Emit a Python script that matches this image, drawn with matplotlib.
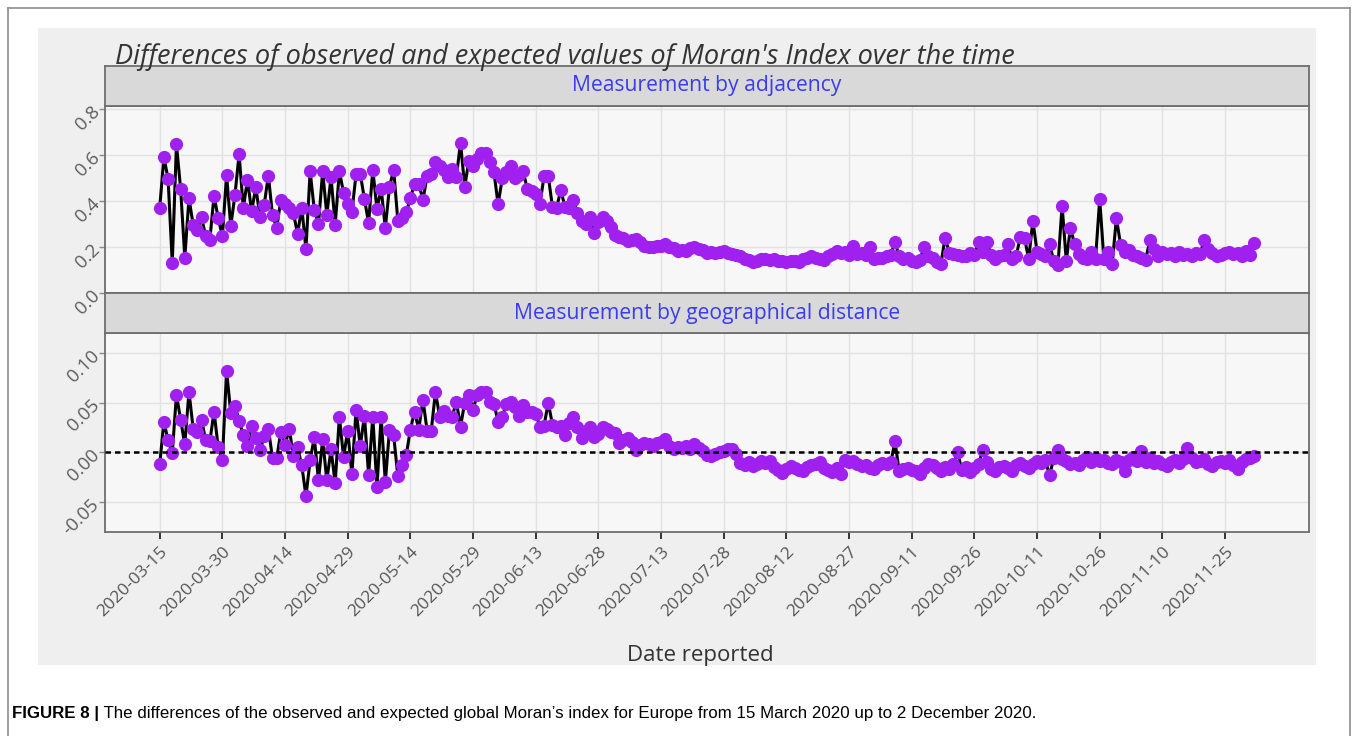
import matplotlib
matplotlib.use('Agg')
import matplotlib.pyplot as plt
import matplotlib.dates as mdates
import numpy as np
import pandas as pd

# daily values, 2020-03-15 .. 2020-12-02
dates = pd.date_range('2020-03-15', '2020-12-02', freq='D')

adjacency = [
    0.371, 0.589, 0.496, 0.130, 0.646, 0.453, 0.154, 0.411, 0.297, 0.275,
    0.328, 0.247, 0.232, 0.422, 0.325, 0.247, 0.513, 0.290, 0.425, 0.603,
    0.368, 0.492, 0.354, 0.461, 0.328, 0.382, 0.510, 0.337, 0.282, 0.406,
    0.385, 0.368, 0.347, 0.257, 0.371, 0.190, 0.528, 0.361, 0.299, 0.528,
    0.339, 0.503, 0.297, 0.528, 0.436, 0.385, 0.351, 0.518, 0.518, 0.408,
    0.304, 0.536, 0.365, 0.453, 0.282, 0.461, 0.536, 0.311, 0.325, 0.350,
    0.411, 0.475, 0.475, 0.403, 0.508, 0.518, 0.568, 0.553, 0.532, 0.503,
    0.539, 0.503, 0.653, 0.461, 0.575, 0.553, 0.582, 0.610, 0.610, 0.570,
    0.525, 0.385, 0.499, 0.525, 0.553, 0.499, 0.513, 0.528, 0.450, 0.442,
    0.432, 0.385, 0.508, 0.508, 0.375, 0.371, 0.446, 0.375, 0.368, 0.403,
    0.346, 0.311, 0.300, 0.332, 0.261, 0.310, 0.332, 0.311, 0.285, 0.254,
    0.245, 0.238, 0.225, 0.232, 0.235, 0.220, 0.204, 0.200, 0.198, 0.204,
    0.206, 0.214, 0.200, 0.196, 0.183, 0.186, 0.183, 0.195, 0.198, 0.190,
    0.186, 0.175, 0.176, 0.175, 0.180, 0.183, 0.172, 0.168, 0.164, 0.161,
    0.147, 0.142, 0.136, 0.140, 0.147, 0.147, 0.145, 0.147, 0.140, 0.138,
    0.136, 0.140, 0.138, 0.136, 0.147, 0.150, 0.161, 0.152, 0.147, 0.145,
    0.160, 0.168, 0.183, 0.172, 0.178, 0.165, 0.204, 0.168, 0.175, 0.165,
    0.198, 0.147, 0.150, 0.154, 0.160, 0.165, 0.222, 0.160, 0.147, 0.150,
    0.140, 0.136, 0.145, 0.200, 0.161, 0.150, 0.134, 0.128, 0.240, 0.175,
    0.170, 0.165, 0.160, 0.162, 0.175, 0.165, 0.222, 0.180, 0.222, 0.165,
    0.147, 0.160, 0.165, 0.214, 0.147, 0.160, 0.243, 0.240, 0.147, 0.314,
    0.180, 0.170, 0.160, 0.211, 0.140, 0.120, 0.379, 0.140, 0.282, 0.211,
    0.170, 0.150, 0.147, 0.180, 0.147, 0.408, 0.147, 0.180, 0.128, 0.325,
    0.210, 0.180, 0.185, 0.165, 0.160, 0.150, 0.145, 0.228, 0.190, 0.160,
    0.180, 0.170, 0.175, 0.160, 0.180, 0.165, 0.170, 0.160, 0.175, 0.168,
    0.228, 0.190, 0.175, 0.160, 0.165, 0.172, 0.180, 0.168, 0.175, 0.160,
    0.183, 0.165, 0.215,
]

geo_distance = [
    -0.012, 0.031, 0.012, -0.001, 0.058, 0.033, 0.008, 0.061, 0.024, 0.021,
    0.033, 0.012, 0.011, 0.041, 0.005, -0.008, 0.082, 0.040, 0.047, 0.032,
    0.017, 0.006, 0.027, 0.014, 0.002, 0.016, 0.024, -0.006, -0.006, 0.021,
    0.007, 0.024, -0.004, 0.005, -0.013, -0.044, -0.008, 0.015, -0.028, 0.013,
    -0.028, 0.003, -0.031, 0.036, -0.005, 0.022, -0.022, 0.043, 0.006, 0.037,
    -0.023, 0.036, -0.035, 0.036, -0.030, 0.023, 0.017, -0.024, -0.013, -0.003,
    0.023, 0.041, 0.023, 0.053, 0.022, 0.022, 0.061, 0.036, 0.042, 0.037,
    0.036, 0.051, 0.026, 0.050, 0.058, 0.043, 0.058, 0.061, 0.061, 0.051,
    0.049, 0.031, 0.036, 0.049, 0.051, 0.046, 0.037, 0.048, 0.041, 0.041,
    0.039, 0.026, 0.027, 0.050, 0.028, 0.026, 0.027, 0.017, 0.030, 0.036,
    0.026, 0.014, 0.022, 0.026, 0.015, 0.018, 0.026, 0.024, 0.021, 0.020,
    0.009, 0.012, 0.014, 0.010, 0.002, 0.007, 0.009, 0.008, 0.006, 0.009,
    0.010, 0.013, 0.006, 0.003, 0.005, 0.004, 0.006, 0.003, 0.008, 0.004,
    0.001, -0.003, -0.004, -0.002, 0.000, 0.001, 0.003, 0.003, -0.002, -0.011,
    -0.013, -0.010, -0.014, -0.012, -0.009, -0.011, -0.009, -0.015, -0.018, -0.021,
    -0.017, -0.014, -0.016, -0.018, -0.019, -0.015, -0.013, -0.012, -0.010, -0.016,
    -0.018, -0.020, -0.016, -0.022, -0.008, -0.010, -0.009, -0.012, -0.014, -0.013,
    -0.016, -0.017, -0.013, -0.011, -0.012, -0.010, 0.011, -0.019, -0.017, -0.016,
    -0.018, -0.019, -0.022, -0.016, -0.012, -0.013, -0.016, -0.019, -0.015, -0.017,
    -0.012, 0.000, -0.018, -0.015, -0.020, -0.016, -0.012, 0.002, -0.010, -0.017,
    -0.019, -0.015, -0.014, -0.016, -0.019, -0.013, -0.011, -0.014, -0.016, -0.012,
    -0.009, -0.011, -0.008, -0.023, -0.006, 0.002, -0.007, -0.009, -0.012, -0.011,
    -0.013, -0.008, -0.005, -0.010, -0.006, -0.009, -0.008, -0.011, -0.012, -0.008,
    -0.010, -0.019, -0.008, -0.005, -0.009, 0.001, -0.010, -0.006, -0.011, -0.009,
    -0.012, -0.014, -0.010, -0.008, -0.011, -0.007, 0.004, -0.006, -0.010, -0.009,
    -0.007, -0.012, -0.014, -0.010, -0.009, -0.011, -0.008, -0.013, -0.017, -0.010,
    -0.007, -0.006, -0.004,
]

tick_dates = pd.date_range('2020-03-15', '2020-11-25', freq='15D')
top_ticks = [0.0, 0.2, 0.4, 0.6, 0.8]
bottom_ticks = [-0.05, 0.00, 0.05, 0.10]

strip_titles = ['Measurement by adjacency', 'Measurement by geographical distance']
title = "Differences of observed and expected values of Moran's Index over the time"
xlabel = 'Date reported'
caption_bold = 'FIGURE 8 |'
caption_rest = (' The differences of the observed and expected global Moran\u2019s index for Europe '
                'from 15 March 2020 up to 2 December 2020.')

purple = '#A020F0'
plt.rcParams['font.family'] = ['Open Sans', 'DejaVu Sans']

W, H = 1358, 736
fig = plt.figure(figsize=(W / 100, H / 100), dpi=100)
fig.patch.set_facecolor('white')


def box(x0, y0, x1, y1):
    # pixel box (top-left origin) -> figure fraction rect
    return [x0 / W, 1 - y1 / H, (x1 - x0) / W, (y1 - y0) / H]


# outer frame and grey plot background
bg = fig.add_axes([0, 0, 1, 1], zorder=-10)
bg.set_xlim(0, W)
bg.set_ylim(H, 0)
bg.axis('off')
bg.add_patch(plt.Rectangle((38, 28), 1316 - 38, 665 - 28, facecolor='#EFEFEF', edgecolor='none'))
bg.plot([8, 8], [8, 736], color='#8C8C8C', lw=1.2)
bg.plot([8, 1350], [8, 8], color='#8C8C8C', lw=1.2)
bg.plot([1350, 1350], [8, 736], color='#8C8C8C', lw=1.2)

xmin = dates[0] - pd.Timedelta(days=13.1)
xmax = dates[-1] + pd.Timedelta(days=13.1)

ax_top = fig.add_axes(box(105, 106, 1309, 293))
ax_bot = fig.add_axes(box(105, 333, 1309, 532))
strip_top = fig.add_axes(box(105, 66, 1309, 106))
strip_bot = fig.add_axes(box(105, 293, 1309, 333))

for ax, vals in [(ax_top, adjacency), (ax_bot, geo_distance)]:
    ax.set_facecolor('#F7F7F7')
    ax.plot(dates, vals, color='black', lw=2.2, zorder=3)
    ax.plot(dates, vals, 'o', color=purple, ms=9.5, mec='none', zorder=4)
    ax.set_xlim(xmin, xmax)
    ax.set_xticks(tick_dates)
    ax.grid(True, color='#E2E2E2', lw=1.0, zorder=0)
    ax.set_axisbelow(True)
    for s in ax.spines.values():
        s.set_color('#6E6E6E')
        s.set_linewidth(1.3)
    ax.tick_params(axis='y', colors='#8A8A8A', labelcolor='#5E5E5E', length=4, width=1,
                   labelsize=13.5, pad=2)
    ax.tick_params(axis='x', colors='#333333', length=5, width=1.4)

ax_top.set_ylim(0.0, 0.812)
ax_top.set_yticks(top_ticks)
ax_top.set_yticklabels([f'{v:.1f}' for v in top_ticks])
ax_top.tick_params(axis='x', labelbottom=False, length=0)

ax_bot.set_ylim(-0.080, 0.120)
ax_bot.set_yticks(bottom_ticks)
ax_bot.set_yticklabels([f'{v:.2f}' for v in bottom_ticks])
ax_bot.axhline(0, color='black', lw=1.8, ls=(0, (2.2, 1.6)), zorder=5)
ax_bot.xaxis.set_major_formatter(mdates.DateFormatter('%Y-%m-%d'))
for lab in ax_bot.get_xticklabels():
    lab.set_rotation(45)
    lab.set_ha('right')
    lab.set_rotation_mode('anchor')
    lab.set_fontsize(12.5)
    lab.set_color('#555555')

for ax in (ax_top, ax_bot):
    for lab in ax.get_yticklabels():
        lab.set_rotation(45)
        lab.set_rotation_mode('anchor')
        lab.set_ha('right')
        lab.set_va('center')

for sax, text in [(strip_top, strip_titles[0]), (strip_bot, strip_titles[1])]:
    sax.set_facecolor('#D9D9D9')
    sax.set_xticks([])
    sax.set_yticks([])
    for s in sax.spines.values():
        s.set_color('#6E6E6E')
        s.set_linewidth(1.3)
    sax.text(0.5, 0.5, text, transform=sax.transAxes, ha='center', va='center',
             fontsize=15.2, color='#3B3BF2')

fig.text(115 / W, 1 - 64 / H, title, fontsize=19.5, style='italic', color='#333333',
         ha='left', va='baseline')
fig.text(700 / W, 1 - 655 / H, xlabel, fontsize=16, color='#333333', ha='center', va='center')

cap_y = 1 - 718 / H
t1 = fig.text(12 / W, cap_y, caption_bold, fontsize=12.2, fontweight='bold',
              family=['Liberation Sans'], ha='left', va='baseline')
fig.canvas.draw()
bb = t1.get_window_extent()
fig.text(bb.x1 / W, cap_y, caption_rest, fontsize=12.2,
         family=['Liberation Sans'], ha='left', va='baseline')

fig.savefig('out.png', dpi=100)
